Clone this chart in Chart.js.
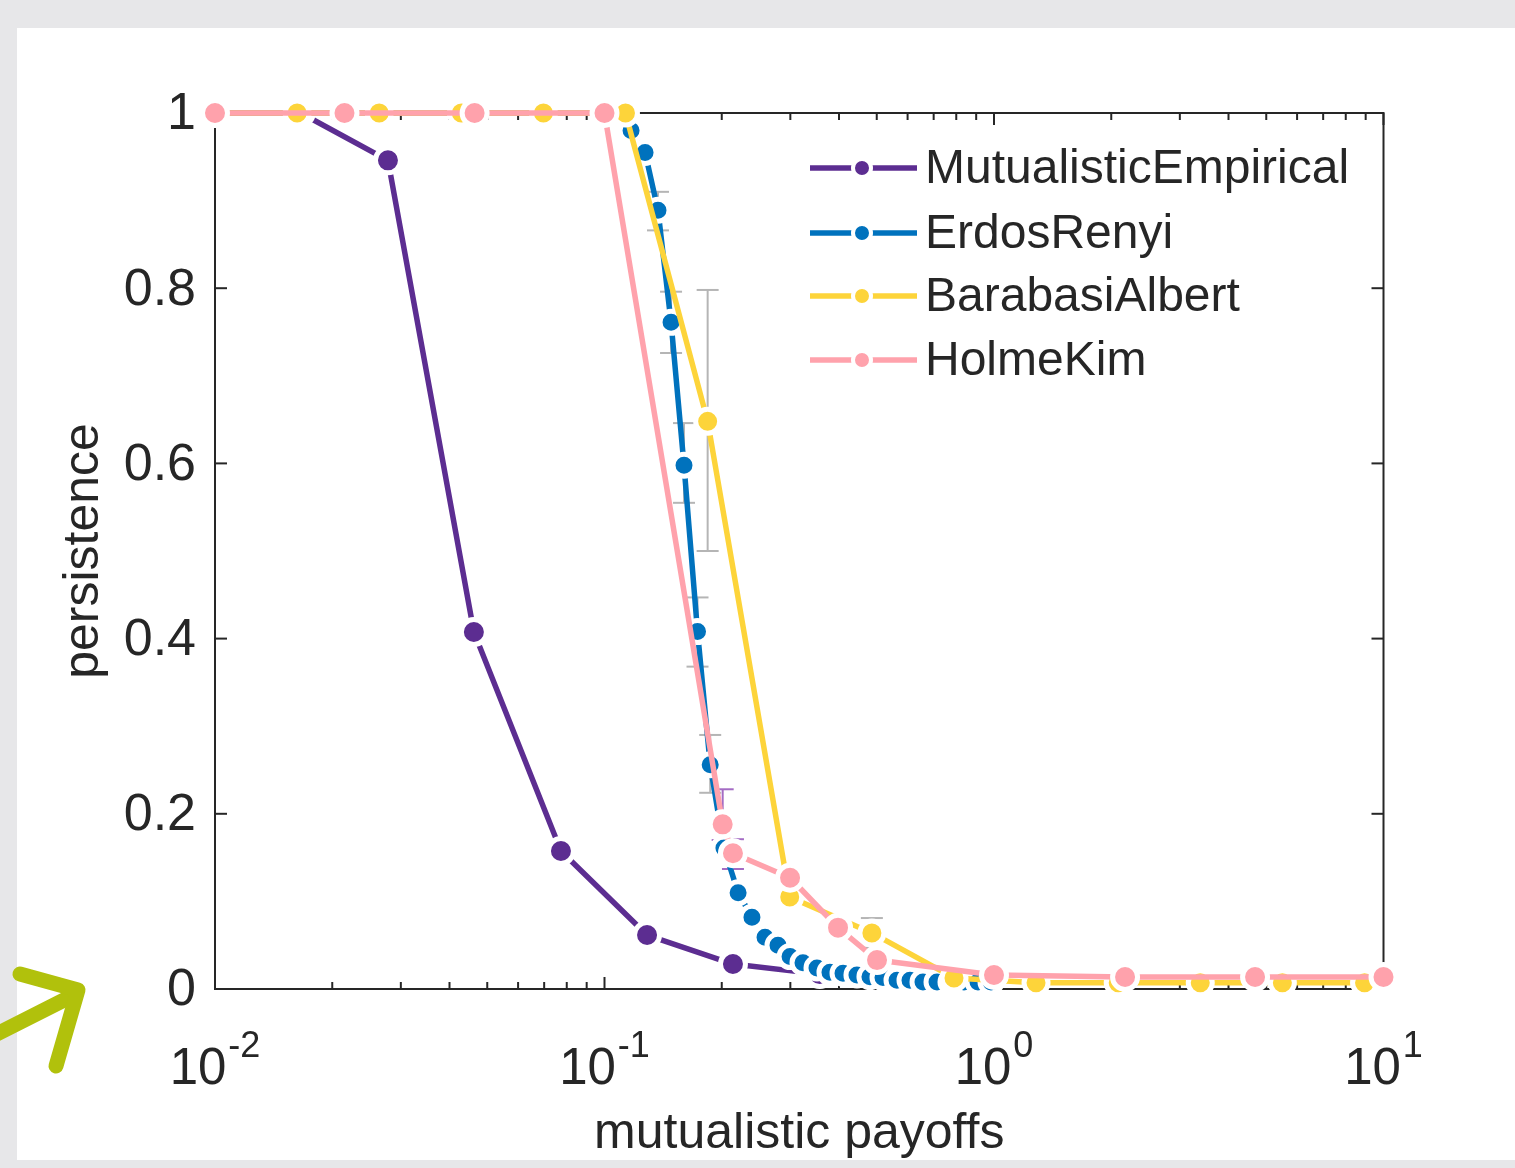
<!DOCTYPE html>
<html><head><meta charset="utf-8">
<script src="https://cdn.jsdelivr.net/npm/chart.js@4.4.1/dist/chart.umd.min.js"></script>
<style>
html,body{margin:0;padding:0;background:#e7e7e9;overflow:hidden;}
#wrap{position:absolute;left:0;top:0;width:1515px;height:1168px;}
</style></head><body>
<div id="wrap"><canvas id="c" width="1515" height="1168"></canvas></div>
<script>
// ---------------- data ----------------
const seriesNames = ['MutualisticEmpirical', 'ErdosRenyi', 'BarabasiAlbert', 'HolmeKim'];

const empiricalX = [0.01, 0.0166, 0.0278, 0.0462, 0.0773, 0.1286, 0.2137, 0.357];
const empiricalY = [1, 1, 0.946, 0.4075, 0.1575, 0.0616, 0.0285, 0.017];

const erdosX = [0.01, 0.0215, 0.0464, 0.1, 0.1083, 0.117, 0.1271, 0.1372, 0.1482, 0.16, 0.1733, 0.1868, 0.2026, 0.2203,
  0.2391, 0.2583, 0.2789, 0.2995, 0.3233, 0.3512, 0.3792, 0.4096, 0.4448, 0.4803, 0.5188, 0.5636, 0.6086, 0.6572,
  0.714, 0.7755, 0.8375, 0.9097, 0.9825];
const erdosY = [1, 1, 1, 1, 1, 0.98, 0.955, 0.889, 0.761, 0.598, 0.408, 0.256, 0.161, 0.110,
  0.082, 0.059, 0.050, 0.037, 0.030, 0.024, 0.019, 0.018, 0.016, 0.014, 0.013, 0.010, 0.010, 0.008,
  0.008, 0.008, 0.008, 0.008, 0.008];

const barabasiX = [0.01, 0.01625, 0.0264, 0.0429, 0.0697, 0.1132, 0.184, 0.2989, 0.4858, 0.7894, 1.282, 2.084, 3.385, 5.5, 8.94];
const barabasiY = [1, 1, 1, 1, 1, 1, 0.648, 0.105, 0.064, 0.0126, 0.007, 0.007, 0.007, 0.007, 0.007];

const holmeX = [0.01, 0.0215, 0.0464, 0.1, 0.2011, 0.2137, 0.2995, 0.3977, 0.5008, 1.0, 2.17, 4.68, 10];
const holmeY = [1, 1, 1, 1, 0.188, 0.155, 0.127, 0.070, 0.033, 0.016, 0.0137, 0.0137, 0.0137];

// error bars: x position, lower and upper value
const erdosErrX    = [0.1372, 0.1482, 0.16, 0.1733, 0.1868];
const erdosErrLow  = [0.866, 0.726, 0.555, 0.368, 0.224];
const erdosErrHigh = [0.910, 0.796, 0.646, 0.447, 0.290];
const barabasiErrX    = [0.184, 0.4858];
const barabasiErrLow  = [0.500, 0.047];
const barabasiErrHigh = [0.798, 0.081];
const holmeErrX    = [0.2011, 0.2137];
const holmeErrLow  = [0.170, 0.137];
const holmeErrHigh = [0.228, 0.171];

// ticks
const yTickValues = [0, 0.2, 0.4, 0.6, 0.8, 1];
const yTickLabels = ['0', '0.2', '0.4', '0.6', '0.8', '1'];
const xTickBases = ['10', '10', '10', '10'];
const xTickExponents = ['-2', '-1', '0', '1'];
const xTickValues = [0.01, 0.1, 1, 10];
const xAxisTitle = 'mutualistic payoffs';
const yAxisTitle = 'persistence';

// ---------------- style ----------------
const colors = ['#5c2d91', '#0072bd', '#fdd43a', '#ffa2ac'];
const FONT = '"Liberation Sans", Arial, Helvetica, sans-serif';
const INK = '#262626';

function pts(xs, ys) { return xs.map((x, i) => ({ x: x, y: ys[i] })); }

function ds(i, xs, ys, order, rad) {
  return {
    label: seriesNames[i],
    data: pts(xs, ys),
    borderColor: colors[i],
    backgroundColor: colors[i],
    pointBackgroundColor: colors[i],
    pointBorderColor: '#ffffff',
    pointBorderWidth: 5,
    pointRadius: rad,
    pointHoverRadius: rad,
    borderWidth: 5.5,
    borderJoinStyle: 'round',
    borderCapStyle: 'round',
    tension: 0,
    clip: false,
    order: order
  };
}

function seg(ctx, x1, y1, x2, y2) { ctx.beginPath(); ctx.moveTo(x1, y1); ctx.lineTo(x2, y2); ctx.stroke(); }

const decor = {
  id: 'decor',
  beforeDraw(chart) {
    const ctx = chart.ctx;
    ctx.save();
    ctx.fillStyle = '#e7e7e9'; ctx.fillRect(0, 0, 1515, 1168);
    ctx.fillStyle = '#ffffff'; ctx.fillRect(17, 28, 1498, 1132);
    ctx.restore();
  },
  beforeDatasetsDraw(chart) {
    const ctx = chart.ctx, a = chart.chartArea, x = chart.scales.x, y = chart.scales.y;
    ctx.save();
    ctx.strokeStyle = INK; ctx.lineWidth = 2; ctx.lineCap = 'butt';
    ctx.strokeRect(a.left, a.top, a.right - a.left, a.bottom - a.top);
    yTickValues.forEach(v => {
      const py = y.getPixelForValue(v);
      seg(ctx, a.left, py, a.left + 12, py);
      seg(ctx, a.right, py, a.right - 12, py);
    });
    xTickValues.forEach((v, di) => {
      const px = x.getPixelForValue(v);
      seg(ctx, px, a.bottom, px, a.bottom - 12);
      seg(ctx, px, a.top, px, a.top + 12);
      if (di < xTickValues.length - 1) {
        for (let k = 2; k <= 9; k++) {
          const mx = x.getPixelForValue(v * k);
          seg(ctx, mx, a.bottom, mx, a.bottom - 7);
          seg(ctx, mx, a.top, mx, a.top + 7);
        }
      }
    });
    // y tick labels
    ctx.fillStyle = INK;
    ctx.font = '52px ' + FONT;
    ctx.textAlign = 'right'; ctx.textBaseline = 'middle';
    yTickValues.forEach((v, i) => {
      ctx.fillText(yTickLabels[i], a.left - 19, y.getPixelForValue(v) + 2);
    });
    // x tick labels with superscript exponent
    ctx.textBaseline = 'alphabetic'; ctx.textAlign = 'left';
    xTickValues.forEach((v, i) => {
      const px = x.getPixelForValue(v);
      ctx.font = '51px ' + FONT;
      const wb = ctx.measureText(xTickBases[i]).width;
      ctx.font = '36px ' + FONT;
      const we = ctx.measureText(xTickExponents[i]).width;
      const start = px - (wb + we + 2) / 2;
      ctx.font = '51px ' + FONT;
      ctx.fillText(xTickBases[i], start, 1084);
      ctx.font = '36px ' + FONT;
      ctx.fillText(xTickExponents[i], start + wb + 2, 1057);
    });
    // axis titles
    ctx.font = '50px ' + FONT;
    ctx.textAlign = 'center';
    ctx.fillText(xAxisTitle, (a.left + a.right) / 2, 1148);
    ctx.save();
    ctx.translate(98, (a.top + a.bottom) / 2);
    ctx.rotate(-Math.PI / 2);
    ctx.fillText(yAxisTitle, 0, 0);
    ctx.restore();
    // error bars
    function errs(xs, lo, hi, col) {
      ctx.strokeStyle = col; ctx.lineWidth = 2;
      xs.forEach((xv, i) => {
        const px = x.getPixelForValue(xv);
        const p1 = y.getPixelForValue(lo[i]), p2 = y.getPixelForValue(hi[i]);
        seg(ctx, px, p1, px, p2);
        seg(ctx, px - 11, p1, px + 11, p1);
        seg(ctx, px - 11, p2, px + 11, p2);
      });
    }
    errs(erdosErrX, erdosErrLow, erdosErrHigh, '#b5b5b5');
    errs(barabasiErrX, barabasiErrLow, barabasiErrHigh, '#b5b5b5');
    errs(holmeErrX, holmeErrLow, holmeErrHigh, '#a46cc4');
    ctx.restore();
  },
  afterDraw(chart) {
    const ctx = chart.ctx;
    ctx.save();
    // legend
    const rowsY = [168, 233, 296, 360];
    seriesNames.forEach((name, i) => {
      const ry = rowsY[i];
      ctx.strokeStyle = colors[i]; ctx.lineWidth = 5.5; ctx.lineCap = 'butt';
      seg(ctx, 810, ry, 917, ry);
      ctx.beginPath(); ctx.arc(862, ry, 9, 0, Math.PI * 2);
      ctx.fillStyle = colors[i]; ctx.fill();
      ctx.strokeStyle = '#ffffff'; ctx.lineWidth = 4; ctx.stroke();
      ctx.fillStyle = INK;
      ctx.font = '48px ' + FONT;
      ctx.textAlign = 'left'; ctx.textBaseline = 'middle';
      ctx.fillText(name, 925, ry + 2);
    });
    // green hand-drawn arrow decoration
    ctx.strokeStyle = '#b1c10c'; ctx.lineWidth = 15; ctx.lineCap = 'round'; ctx.lineJoin = 'round';
    ctx.beginPath(); ctx.moveTo(-5, 1035); ctx.lineTo(68, 998); ctx.stroke();
    ctx.beginPath(); ctx.moveTo(20, 974); ctx.lineTo(78, 990); ctx.lineTo(56, 1066); ctx.stroke();
    ctx.restore();
  }
};

new Chart(document.getElementById('c'), {
  type: 'line',
  data: {
    datasets: [
      ds(0, empiricalX, empiricalY, 4, 12.5),
      ds(1, erdosX, erdosY, 3, 11),
      ds(2, barabasiX, barabasiY, 2, 12),
      ds(3, holmeX, holmeY, 1, 12.5)
    ]
  },
  options: {
    responsive: false,
    devicePixelRatio: 1,
    animation: false,
    events: [],
    layout: { padding: { left: 215, top: 113, right: 131.5, bottom: 179 } },
    plugins: { legend: { display: false }, tooltip: { enabled: false } },
    scales: {
      x: { type: 'logarithmic', min: 0.01, max: 10, display: false },
      y: { type: 'linear', min: 0, max: 1, display: false }
    }
  },
  plugins: [decor]
});
</script>
</body></html>
